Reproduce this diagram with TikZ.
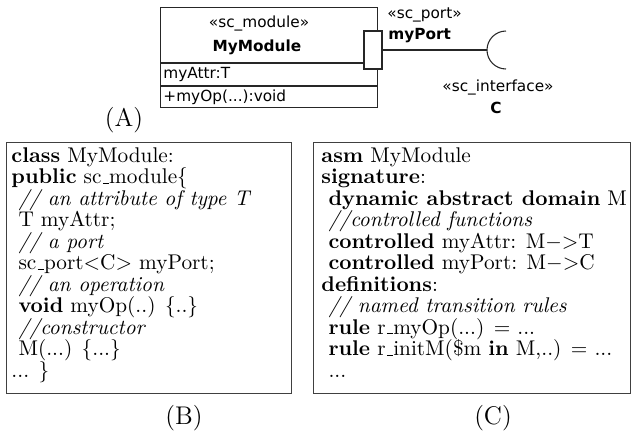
\documentclass[tikz,border=0pt]{standalone}
\usepackage{fontspec}
\newfontfamily\umlfont{DejaVu Sans}
\newcommand\uscore{\leavevmode\kern.06em\vbox{\hrule width.3em}}
\begin{document}
\begin{tikzpicture}[x=0.47pt,y=-0.47pt,
  uml/.style={font=\umlfont\fontsize{7.2}{8}\selectfont, inner sep=0pt},
  umlb/.style={font=\umlfont\bfseries\fontsize{7.2}{8}\selectfont, inner sep=0pt},
  codebox/.style={draw=black!75, line width=0.5pt},
  code/.style={anchor=north west, inner sep=0pt, align=left, font=\fontsize{10}{10.1}\selectfont},
  caption/.style={font=\large, inner sep=0pt},
  umlline/.style={draw=black!85, line width=0.5pt}]
\useasboundingbox (0,0) rectangle (632,441);
% (A) UML part
\node[umlline, rectangle, minimum width=217*0.47pt, minimum height=100*0.47pt, anchor=north west, inner sep=0pt] (module) at (160,7) {};
\coordinate (sep1w) at (160,63);
\coordinate (sep1e) at (377,63);
\coordinate (sep2w) at (160,86);
\coordinate (sep2e) at (377,86);
\draw[umlline] (sep1w) -- (sep1e);
\draw[umlline] (sep2w) -- (sep2e);
\node[uml] (stereo) at (259,23) {«sc\_module»};
\node[umlb] (mname) at (257,47) {MyModule};
\node[uml, anchor=west] (attr) at (163,75) {myAttr:T};
\node[uml, anchor=west] (op) at (163,97) {+myOp(...):void};
\node[umlline, rectangle, fill=white, minimum width=18*0.47pt, minimum height=38*0.47pt, inner sep=0pt] (port) at (373,50) {};
\node[uml, anchor=west] (portst) at (387,15) {«sc\_port»};
\node[umlb, anchor=west] (portname) at (388,36) {myPort};
\coordinate (sock) at (487,50);
\draw[umlline] (port.east) -- (sock);
\draw[umlline] (sock) arc[start angle=180, end angle=90, radius=19*0.47pt];
\draw[umlline] (sock) arc[start angle=180, end angle=270, radius=19*0.47pt];
\node[uml] (ifst) at (498,87) {«sc\_interface»};
\node[umlb] (ifname) at (496,108) {C};
\node[caption] (capA) at (124,120) {(A)};
% (B) code box
\node[codebox, rectangle, minimum width=285*0.47pt, minimum height=251*0.47pt, anchor=north west, inner sep=0pt] (boxB) at (6,142) {};
\node[code] (codeB) at (11,147) {%
\textbf{class} MyModule:\\
\textbf{public} sc\uscore module\{\\
\ \textit{// an attribute of type T}\\
\ T myAttr;\\
\ \textit{// a port}\\
\ sc\uscore port$<$C$>$ myPort;\\
\ \textit{// an operation}\\
\ \textbf{void} myOp(..) \{..\}\\
\ \textit{//constructor}\\
\ M(...) \{...\}\\
... \}};
\node[caption] (capB) at (184,418) {(B)};
% (C) code box
\node[codebox, rectangle, minimum width=317*0.47pt, minimum height=251*0.47pt, anchor=north west, inner sep=0pt] (boxC) at (313,142) {};
\node[code] (codeC) at (321,147) {%
\textbf{asm} MyModule\\
\textbf{signature}:\\
\ \textbf{dynamic abstract domain} M\\
\ \textit{//controlled functions}\\
\ \textbf{controlled} myAttr: M$-$$>$T\\
\ \textbf{controlled} myPort: M$-$$>$C\\
\textbf{definitions}:\\
\ \textit{// named transition rules}\\
\ \textbf{rule} r\uscore myOp(...) = ...\\
\ \textbf{rule} r\uscore initM(\$m \textbf{in} M,..) = ...\\
\ ...};
\node[caption] (capC) at (493,418) {(C)};
\end{tikzpicture}
\end{document}
